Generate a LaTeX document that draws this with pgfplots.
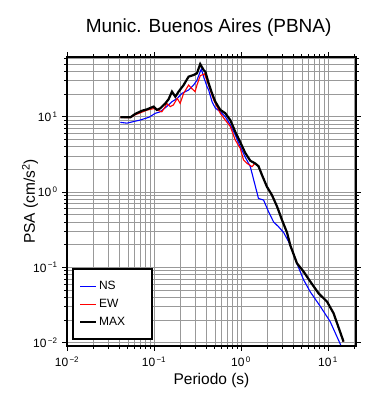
\documentclass[border=0pt]{standalone}
\usepackage{pgfplots}
\pgfplotsset{compat=1.18}
\usepackage{fontspec}
\setmainfont{Liberation Sans}
\begin{document}
\begin{tikzpicture}
\useasboundingbox (-67pt,-54pt) rectangle (323pt,346pt);
\begin{axis}[
  at={(0,0)}, anchor=south west,
  width=289pt, height=289pt, scale only axis,
  xmode=log, ymode=log,
  xmin=0.01, xmax=21, ymin=0.009, ymax=62,
  xtick={0.01,0.1,1,10},
  xticklabels={{10\textsuperscript{\,−2}},{10\textsuperscript{\,−1}},{10\textsuperscript{\,0}},{10\textsuperscript{\,1}}},
  ytick={0.01,0.1,1,10},
  yticklabels={{10\textsuperscript{\,−2}},{10\textsuperscript{\,−1}},{10\textsuperscript{\,0}},{10\textsuperscript{\,1}}},
  minor xtick={0.02,0.03,0.04,0.05,0.06,0.07,0.08,0.09,0.2,0.3,0.4,0.5,0.6,0.7,0.8,0.9,2,3,4,5,6,7,8,9,20},
  minor ytick={0.02,0.03,0.04,0.05,0.06,0.07,0.08,0.09,0.2,0.3,0.4,0.5,0.6,0.7,0.8,0.9,2,3,4,5,6,7,8,9,20,30,40,50,60},
  grid=both,
  major grid style={gray!80, line width=0.5pt},
  minor grid style={gray!80, line width=0.5pt},
  tick align=outside,
  major tick length=5pt, minor tick length=3pt,
  every tick/.style={black, line width=0.7pt},
  axis line style={line width=1.5pt},
  tick label style={font=\fontsize{12}{14}\selectfont},
  xticklabel style={yshift=-2pt},
  yticklabel style={xshift=-1pt},
  title={Munic. Buenos Aires (PBNA)},
  title style={font=\fontsize{19}{22}\selectfont, at={(axis description cs:0.49,1)}, anchor=base, yshift=19pt},
  xlabel={Periodo (s)},
  xlabel style={font=\fontsize{15.5}{18}\selectfont, at={(axis description cs:0.5,-0.121)}, anchor=center},
  ylabel={PSA (cm/s\textsuperscript{2})},
  ylabel style={font=\fontsize{15.5}{18}\selectfont, at={(axis description cs:-0.128,0.5)}, anchor=center},
  legend style={at={(axis description cs:0.0208,0.0242)}, anchor=south west,
    name=leg, fill=white,
    font=\fontsize{12}{14}\selectfont,
    inner xsep=6pt, inner ysep=10pt, row sep=4pt},
  legend cell align=left,
]
\addplot[draw=blue, line width=1.1pt, legend image code/.code={\draw[draw=blue, line width=1.3pt] (0pt,0pt) -- (16pt,0pt);}] coordinates {
(0.041,8.4)(0.049,8.2)(0.058,8.6)(0.069,9.0)(0.087,9.8)(0.104,11.1)(0.118,11.6)(0.14,13.6)(0.161,15.8)(0.185,17.5)(0.21,20.4)(0.25,22.6)(0.285,26.3)(0.31,30)(0.35,43)(0.372,34)(0.407,25)(0.425,22.6)(0.465,15.8)(0.507,13.0)(0.578,11.6)(0.66,10.0)(0.754,7.8)(0.86,5.7)(0.98,4.0)(1.12,2.9)(1.28,2.17)(1.40,1.45)(1.59,0.82)(1.82,0.78)(2.07,0.55)(2.37,0.40)(2.7,0.346)(3.09,0.29)(3.52,0.22)(3.9,0.165)(4.4,0.112)(5.25,0.068)(6.27,0.047)(8.2,0.030)(10.6,0.019)(14,0.0093)};
\addlegendentry{\makebox[45pt][l]{NS}}
\addplot[draw=red, line width=1.1pt, legend image code/.code={\draw[draw=red, line width=1.3pt] (0pt,0pt) -- (16pt,0pt);}] coordinates {
(0.041,9.8)(0.0535,9.7)(0.061,10.6)(0.073,11.5)(0.083,12.2)(0.099,12.8)(0.108,12.3)(0.123,11.6)(0.135,13.6)(0.14,15)(0.154,13.6)(0.167,14.3)(0.185,17.5)(0.2,15)(0.219,20.4)(0.25,26.3)(0.27,23.8)(0.297,21.5)(0.312,26.3)(0.34,35)(0.38,37)(0.407,30)(0.425,26.3)(0.485,16.7)(0.578,11.1)(0.66,9.0)(0.754,7.4)(0.86,4.9)(0.98,3.8)(1.07,2.66)(1.17,2.40)(1.34,2.17)(1.45,2.40)(1.59,2.2)(1.74,1.69)(1.99,1.17)(2.27,0.91)(2.6,0.64)(2.96,0.425)(3.38,0.29)(3.7,0.194)(4.4,0.113)(5.25,0.0875)(6.27,0.0645)(7.8,0.045)(9.75,0.035)(11.6,0.0245)(15.1,0.0103)};
\addlegendentry{\makebox[45pt][l]{EW}}
\addplot[draw=black, line width=2.2pt, legend image code/.code={\draw[draw=black, line width=1.8pt] (0pt,0pt) -- (16pt,0pt);}] coordinates {
(0.041,9.8)(0.0535,9.8)(0.061,10.9)(0.073,12.0)(0.083,12.5)(0.099,13.6)(0.108,12.3)(0.118,12.9)(0.135,15.0)(0.147,17.0)(0.161,21.5)(0.176,18.4)(0.192,21.5)(0.219,26.3)(0.25,34)(0.285,35.7)(0.312,37.7)(0.34,50)(0.372,41.7)(0.39,39.5)(0.425,27.7)(0.465,20.4)(0.507,15.8)(0.578,12.3)(0.66,11.1)(0.754,9.0)(0.86,6.3)(0.98,4.6)(1.12,3.3)(1.28,2.6)(1.45,2.40)(1.59,2.2)(1.74,1.69)(1.99,1.17)(2.27,0.91)(2.6,0.64)(2.96,0.425)(3.38,0.29)(3.7,0.194)(4.4,0.113)(5.25,0.0875)(6.27,0.0645)(7.8,0.045)(9.75,0.035)(11.6,0.0245)(15.1,0.0103)};
\addlegendentry{\makebox[45pt][l]{MAX}}
\end{axis}
\draw[black, line width=1.5pt] (leg.south west) rectangle (leg.north east);
\end{tikzpicture}
\end{document}
